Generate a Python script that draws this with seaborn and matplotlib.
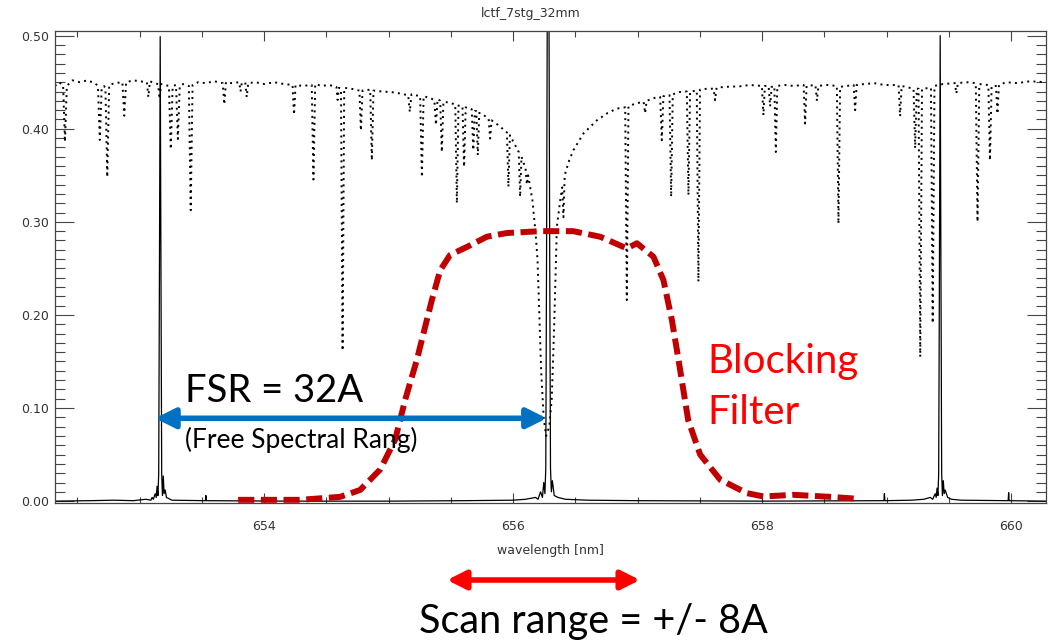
import matplotlib
matplotlib.use("Agg")
import pandas as pd
import seaborn as sns
import matplotlib.pyplot as plt
from matplotlib.ticker import MultipleLocator, FormatStrFormatter

# solar spectrum (dotted)
spec_wl = [
    652.32, 652.35, 652.385, 652.40, 652.415, 652.46, 652.52, 652.58, 652.64,
    652.665, 652.68, 652.695, 652.712, 652.725, 652.74, 652.755, 652.80,
    652.861, 652.876, 652.891, 652.95, 653.00, 653.058, 653.07, 653.082,
    653.12, 653.148, 653.16, 653.172, 653.20, 653.235, 653.25, 653.265,
    653.292, 653.307, 653.322, 653.35, 653.395, 653.41, 653.425, 653.47,
    653.53, 653.60, 653.667, 653.68, 653.693, 653.74, 653.80, 653.81, 653.82,
    653.848, 653.86, 653.872, 653.93, 654.00, 654.08, 654.16, 654.228, 654.24,
    654.252, 654.31, 654.382, 654.396, 654.41, 654.46, 654.52, 654.58, 654.59,
    654.60, 654.617, 654.63, 654.643, 654.70, 654.765, 654.777, 654.79,
    654.852, 654.865, 654.878, 654.95, 655.05, 655.157, 655.17, 655.183,
    655.253, 655.267, 655.281, 655.33, 655.367, 655.38, 655.393, 655.414,
    655.427, 655.44, 655.49, 655.535, 655.548, 655.561, 655.593, 655.606,
    655.619, 655.667, 655.68, 655.692, 655.704, 655.716, 655.728, 655.77,
    655.803, 655.815, 655.827, 655.88, 655.95, 655.962, 655.974, 656.01,
    656.045, 656.056, 656.067, 656.10, 656.11, 656.12, 656.155, 656.18,
    656.196, 656.21, 656.225, 656.245, 656.265, 656.29, 656.31, 656.33,
    656.351, 656.378, 656.394, 656.404, 656.414, 656.45, 656.484, 656.565,
    656.672, 656.76, 656.833, 656.90, 656.913, 656.926, 656.98, 657.048,
    657.06, 657.072, 657.154, 657.181, 657.194, 657.207, 657.256, 657.269,
    657.282, 657.341, 657.395, 657.408, 657.421, 657.475, 657.488, 657.501,
    657.556, 657.61, 657.622, 657.634, 657.70, 657.823, 657.90, 657.998,
    658.01, 658.022, 658.052, 658.064, 658.076, 658.098, 658.11, 658.122,
    658.18, 658.25, 658.333, 658.345, 658.357, 658.428, 658.44, 658.452,
    658.52, 658.60, 658.613, 658.626, 658.735, 658.747, 658.759, 658.82,
    658.90, 658.98, 659.096, 659.108, 659.12, 659.216, 659.229, 659.242,
    659.256, 659.27, 659.284, 659.356, 659.37, 659.384, 659.45, 659.548,
    659.56, 659.572, 659.64, 659.716, 659.73, 659.744, 659.817, 659.83,
    659.843, 659.878, 659.89, 659.902, 659.96, 660.05, 660.15, 660.28,
]
spec_val = [
    0.446, 0.450, 0.447, 0.386, 0.446, 0.452, 0.450, 0.452, 0.449,
    0.446, 0.388, 0.444, 0.446, 0.444, 0.348, 0.447, 0.449,
    0.450, 0.414, 0.450, 0.452, 0.451, 0.450, 0.434, 0.451,
    0.449, 0.448, 0.432, 0.448, 0.447, 0.446, 0.378, 0.446,
    0.447, 0.389, 0.446, 0.448, 0.446, 0.3125, 0.447, 0.450,
    0.449, 0.451, 0.449, 0.426, 0.450, 0.449, 0.450, 0.440, 0.449,
    0.450, 0.434, 0.449, 0.450, 0.448, 0.450, 0.448, 0.447, 0.415,
    0.447, 0.446, 0.447, 0.3455, 0.448, 0.446, 0.447, 0.445, 0.431,
    0.444, 0.443, 0.1616, 0.444, 0.443, 0.441, 0.398, 0.441,
    0.442, 0.366, 0.441, 0.440, 0.439, 0.436, 0.418, 0.437,
    0.435, 0.348, 0.435, 0.433, 0.431, 0.404, 0.432, 0.430,
    0.375, 0.429, 0.428, 0.426, 0.320, 0.425, 0.424, 0.359,
    0.423, 0.421, 0.377, 0.419, 0.419, 0.3716, 0.417, 0.414,
    0.411, 0.3895, 0.409, 0.404, 0.396, 0.3376, 0.393, 0.384,
    0.375, 0.3268, 0.370, 0.357, 0.340, 0.350, 0.323, 0.288,
    0.259, 0.20, 0.14, 0.09, 0.07, 0.08, 0.11, 0.19,
    0.2946, 0.323, 0.337, 0.305, 0.350, 0.366, 0.377, 0.395,
    0.409, 0.417, 0.4217, 0.423, 0.216, 0.424, 0.427, 0.429,
    0.4166, 0.430, 0.434, 0.434, 0.3877, 0.435, 0.436, 0.3268,
    0.437, 0.4395, 0.440, 0.3287, 0.440, 0.441, 0.2357, 0.442,
    0.443, 0.443, 0.4306, 0.444, 0.445, 0.4456, 0.447, 0.446,
    0.4145, 0.446, 0.446, 0.424, 0.445, 0.446, 0.375, 0.446,
    0.447, 0.446, 0.447, 0.4056, 0.446, 0.447, 0.430, 0.446,
    0.447, 0.446, 0.298, 0.445, 0.447, 0.420, 0.447, 0.448,
    0.449, 0.447, 0.447, 0.4134, 0.446, 0.443, 0.379, 0.443,
    0.443, 0.155, 0.443, 0.444, 0.191, 0.446, 0.448, 0.449,
    0.4378, 0.449, 0.450, 0.449, 0.300, 0.448, 0.447, 0.366,
    0.446, 0.446, 0.416, 0.447, 0.450, 0.449, 0.451, 0.450,
]

# filter transmission peaks (solid)
trans_wl = [
    652.32, 652.60, 652.80, 652.95, 653.05, 653.09, 653.10, 653.11, 653.125,
    653.133, 653.14, 653.147, 653.153, 653.159, 653.165, 653.171, 653.177,
    653.183, 653.19, 653.196, 653.205, 653.215, 653.23, 653.26, 653.528,
    653.532, 653.536, 654.20, 655.00, 655.60, 656.00, 656.10, 656.18, 656.20,
    656.22, 656.235, 656.246, 656.255, 656.262, 656.268, 656.274, 656.281,
    656.288, 656.294, 656.30, 656.307, 656.315, 656.33, 656.36, 656.42,
    656.60, 657.00, 658.00, 658.978, 658.982, 658.986, 659.20, 659.30,
    659.35, 659.37, 659.39, 659.398, 659.405, 659.412, 659.418, 659.424,
    659.430, 659.436, 659.442, 659.448, 659.455, 659.462, 659.47, 659.49,
    659.52, 659.60, 659.976, 659.980, 659.984, 660.28,
]
trans_val = [
    0.0, 0.0005, 0.001, 0.0005, 0.002, 0.001, 0.004, 0.002, 0.008,
    0.004, 0.016, 0.006, 0.03, 0.25, 0.499, 0.25, 0.03,
    0.006, 0.027, 0.008, 0.012, 0.004, 0.003, 0.001, 0.0005,
    0.006, 0.0005, 0.0, 0.0, 0.0005, 0.001, 0.002, 0.004, 0.002,
    0.010, 0.004, 0.020, 0.008, 0.035, 0.25, 0.52, 0.52,
    0.52, 0.25, 0.035, 0.010, 0.022, 0.006, 0.004, 0.002,
    0.001, 0.0005, 0.0, 0.0005, 0.008, 0.0005, 0.001, 0.002,
    0.004, 0.002, 0.008, 0.004, 0.014, 0.006, 0.03, 0.25,
    0.500, 0.25, 0.03, 0.006, 0.022, 0.008, 0.012, 0.004,
    0.002, 0.001, 0.0005, 0.009, 0.0005, 0.0,
]

# blocking filter (red dashed)
block_wl = [
    653.791, 654.289, 654.61, 654.771, 654.932, 655.052, 655.133, 655.227,
    655.347, 655.414, 655.494, 655.628, 655.789, 655.949, 656.217, 656.482,
    656.699, 656.913, 656.994, 657.127, 657.207, 657.275, 657.328, 657.406,
    657.502, 657.663, 657.877, 658.01, 658.251, 658.546, 658.771,
]
block_val = [
    0.0014, 0.0014, 0.0046, 0.012, 0.034, 0.066, 0.109, 0.152,
    0.216, 0.248, 0.2645, 0.273, 0.284, 0.288, 0.290, 0.290,
    0.284, 0.2715, 0.277, 0.2625, 0.2375, 0.1945, 0.152, 0.087,
    0.050, 0.023, 0.0086, 0.005, 0.0068, 0.0046, 0.0025,
]

spec = pd.DataFrame({"wl": spec_wl, "val": spec_val})
trans = pd.DataFrame({"wl": trans_wl, "val": trans_val})
block = pd.DataFrame({"wl": block_wl, "val": block_val})

sns.set_style("ticks")
plt.rcParams["font.family"] = ["DejaVu Sans"]

W, H = 1049, 644
fig = plt.figure(figsize=(W / 100, H / 100), dpi=100)
ax = fig.add_axes([55 / W, 1 - 503 / H, 991 / W, 472 / H])

sns.lineplot(data=spec, x="wl", y="val", sort=False, estimator=None, ax=ax,
             color="black", linewidth=1.4, linestyle=(0, (1, 2.2)))
sns.lineplot(data=trans, x="wl", y="val", sort=False, estimator=None, ax=ax,
             color="black", linewidth=0.9)
sns.lineplot(data=block, x="wl", y="val", sort=False, estimator=None, ax=ax,
             color="#C00000", linewidth=4.3, linestyle=(0, (2.7, 1.1)))

ax.set_xlim(652.32, 660.28)
ax.set_ylim(-0.002, 0.505)
ax.xaxis.set_major_locator(MultipleLocator(2))
ax.xaxis.set_minor_locator(MultipleLocator(0.5))
ax.yaxis.set_major_locator(MultipleLocator(0.1))
ax.yaxis.set_minor_locator(MultipleLocator(0.01))
ax.yaxis.set_major_formatter(FormatStrFormatter("%.2f"))
ax.tick_params(which="both", direction="in", top=True, right=True,
               labelsize=9, labelcolor="#333333", color="#444444", width=0.8)
ax.tick_params(axis="y", which="major", length=14, pad=4)
ax.tick_params(axis="y", which="minor", length=7)
ax.tick_params(axis="x", which="major", length=7, pad=12)
ax.tick_params(axis="x", which="minor", length=4)
for s in ax.spines.values():
    s.set_color("#444444")
    s.set_linewidth(0.9)
ax.set_xlabel("wavelength [nm]", fontsize=9, color="#333333", labelpad=8)
ax.set_ylabel("")
fig.text(531 / W, 1 - 13 / H, "lctf_7stg_32mm", ha="center", va="center",
         fontsize=9, color="#333333")

# annotations
ax.annotate("", xy=(653.124, 0.089), xytext=(656.27, 0.089),
            arrowprops=dict(arrowstyle="<|-|>", color="#0070C0", lw=4,
                            mutation_scale=30, shrinkA=0, shrinkB=0))
ax.annotate("", xy=(447, 64), xytext=(640, 64), xycoords="figure pixels",
            textcoords="figure pixels", annotation_clip=False,
            arrowprops=dict(arrowstyle="<|-|>", color="red", lw=4,
                            mutation_scale=28, shrinkA=0, shrinkB=0))
big = dict(family=["Lato", "DejaVu Sans"], va="center")
fig.text(185 / W, 1 - 391 / H, "FSR = 32A", fontsize=27.5, color="black", ha="left", **big)
fig.text(185 / W, 1 - 440 / H, "(Free Spectral Rang)", fontsize=19, color="black", ha="left", **big)
fig.text(707 / W, 1 - 362 / H, "Blocking", fontsize=29, color="red", ha="left", **big)
fig.text(707 / W, 1 - 413 / H, "Filter", fontsize=29, color="red", ha="left", **big)
fig.text(593 / W, 1 - 621 / H, "Scan range = +/- 8A", fontsize=28.5, color="black", ha="center", **big)

fig.savefig("out.png", dpi=100)
